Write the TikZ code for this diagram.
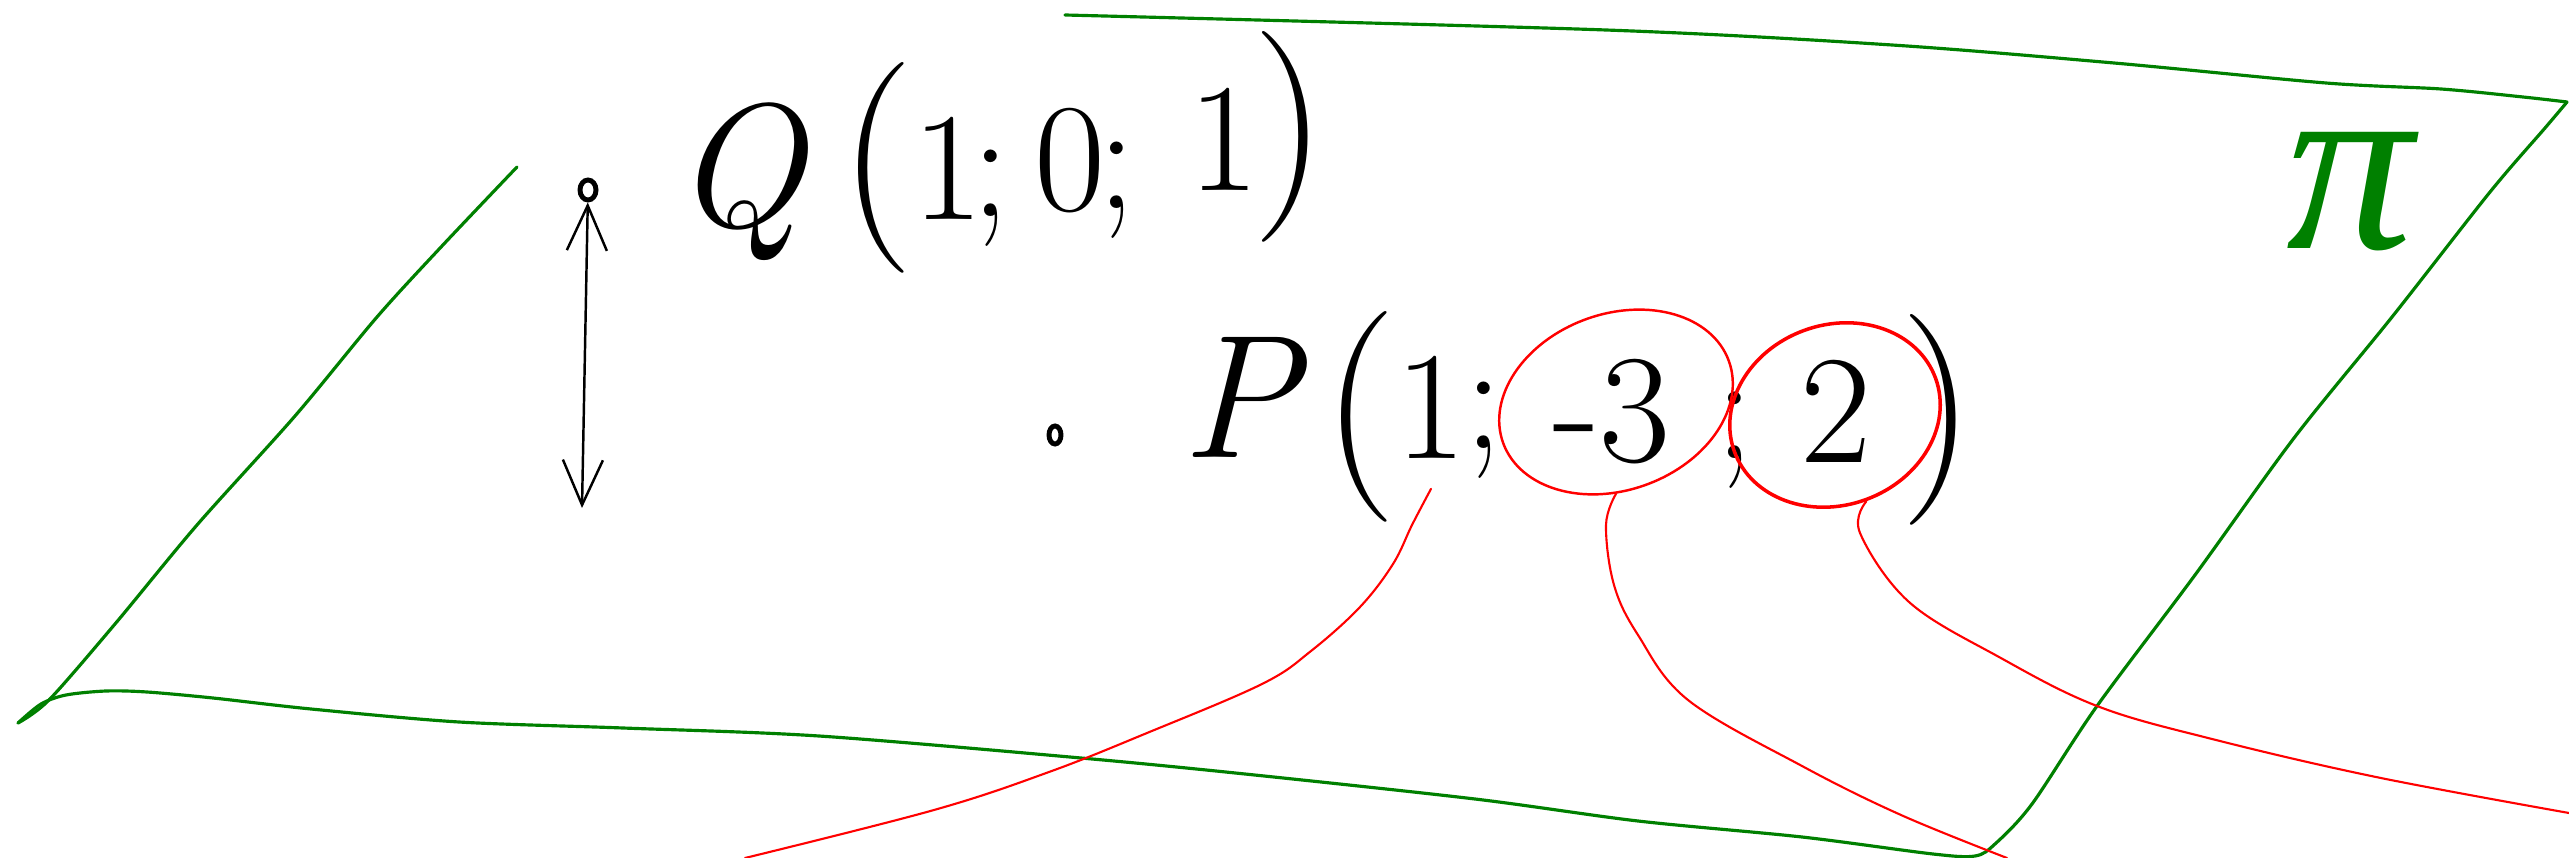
\documentclass[tikz,border=0pt]{standalone}
\usepackage{fontspec}
\newfontfamily\greekfont{Liberation Serif}
\usepackage{tikz}
\usetikzlibrary{arrows.meta,shapes.geometric}

\begin{document}
\begin{tikzpicture}[
    x=0.01cm, y=-0.01cm,
    plane/.style={draw=green!50!black,line width=0.9pt,line join=round,line cap=round},
    link/.style={draw=red,line width=0.6pt,line cap=round},
    ring/.style={draw=red,ellipse,inner sep=0pt},
    letter/.style={inner sep=0pt,font=\fontsize{50}{50}\selectfont\itshape},
    paren/.style={inner sep=0pt,font=\fontsize{60}{60}\selectfont},
    digit/.style={inner sep=0pt,font=\fontsize{44}{44}\selectfont},
    pnt/.style={draw,ellipse,line width=1.4pt,inner sep=0pt},
    dist/.style={{Straight Barb[length=4.5mm,width=4mm]}-{Straight Barb[length=4.5mm,width=4mm]},line width=0.7pt},
]
\useasboundingbox (0,0) rectangle (2569,858);
% plane pi
\draw[plane] plot[smooth,tension=0.5] coordinates {(517,167) (442,246) (377,317) (295,416) (197,525) (115,624) (49,700) (18,723)};
\draw[plane] plot[smooth,tension=0.5] coordinates {(18,723) (41,704) (66,695) (106,691) (147,692) (213,698) (311,709) (459,722) (623,728) (819,736) (1081,758) (1245,774) (1475,799) (1638,821) (1802,837) (1933,854) (1975,856) (1995,844) (2032,804) (2097,706) (2195,575) (2294,438) (2392,317) (2490,192) (2545,128) (2567,102)};
\draw[plane] plot[smooth,tension=0.5] coordinates {(2567,102) (2523,97) (2441,89) (2326,83) (2114,63) (1892,45) (1606,30) (1065,15)};
\node[text=green!50!black,font=\fontsize{72}{72}\selectfont\greekfont\itshape] (pi) at (2350,192) {π};

% point Q and its distance to the plane
\node[pnt,minimum width=0.16cm,minimum height=0.2cm] (qpt) at (588,190) {};
\coordinate (qfoot) at (582,508);
\draw[dist] (qpt) -- (qfoot);
\node[letter] (q) at (738,182) {Q};
\node[paren] (ql) at (877,168) {(};
\node[digit] (qa) at (948,168) {1};
\node[digit] (qsa) at (991,198) {;};
\node[digit] (qb) at (1070,161) {0};
\node[digit] (qsb) at (1117,190) {;};
\node[digit] (qc) at (1224,139) {1};
\node[paren] (qr) at (1290,137) {)};

% point P in the plane
\node[pnt,minimum width=0.12cm,minimum height=0.18cm] (ppt) at (1055,435) {};
\node[letter] (p) at (1240,397) {P};
\node[paren] (pl) at (1360,417) {(};
\node[digit] (pa) at (1431,407) {1};
\node[digit] (psa) at (1484,430) {;};
\node[digit] (pb) at (1612,412) {-3};
\node[digit] (psb) at (1735,440) {;};
\node[digit] (pc) at (1836,411) {2};
\node[paren] (pr) at (1938,420) {)};

\node[ring,line width=0.7pt,minimum width=2.4cm,minimum height=1.76cm,rotate=20] (ca) at (1616,402) {};
\node[ring,line width=1pt,minimum width=2.14cm,minimum height=1.8cm,rotate=20] (cb) at (1835,415) {};

\coordinate (ea) at (745,858);
\coordinate (eb) at (2007,858);
\coordinate (ec) at (2569,813);
\draw[link] plot[smooth,tension=0.6] coordinates {([yshift=-3mm]pa.south) (1412,525) (1393,564) (1360,607) (1311,651) (1262,684) (1147,733) (1049,772) (934,810) (ea)};
\draw[link] plot[smooth,tension=0.6] coordinates {(ca.-110) (1606,525) (1614,585) (1638,635) (1688,700) (1802,766) (1901,815) (eb)};
\draw[link] plot[smooth,tension=0.6] coordinates {(cb.south) (1860,533) (1909,602) (1999,657) (2097,706) (2212,739) (2376,777) (ec)};
\end{tikzpicture}
\end{document}
